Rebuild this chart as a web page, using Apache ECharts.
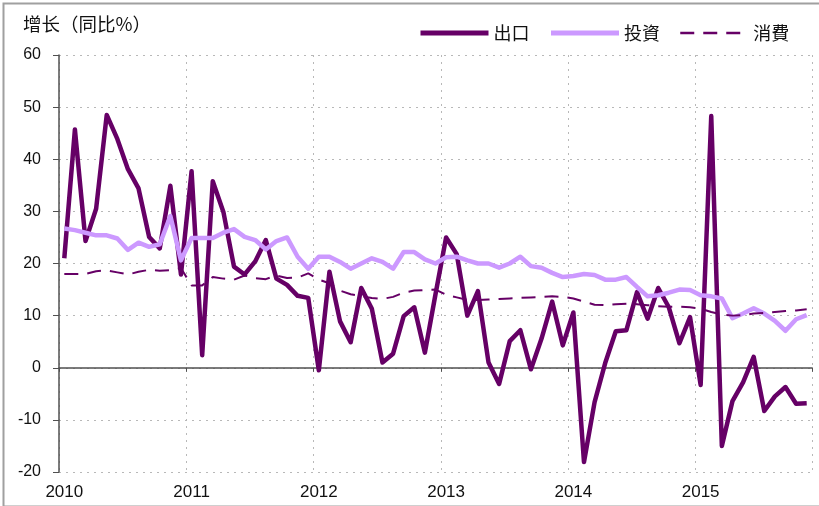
<!DOCTYPE html>
<html>
<head>
<meta charset="utf-8">
<script src="https://cdn.jsdelivr.net/npm/echarts@6/dist/echarts.min.js"></script>
<style>html,body{margin:0;padding:0;background:#fff;}#c{width:819px;height:506px;}</style>
</head>
<body>
<div id="c"></div>
<script>
// Years shown on the axis (monthly data Jan 2010 – Nov 2015)
var years = ['2010', '2011', '2012', '2013', '2014', '2015'];
var seriesNames = ['出口', '投資', '消費'];
var yTicks = { min: -20, max: 60, step: 10 };

// 出口 (exports, y/y %)
var exportsYoY = [
  21.0, 45.7, 24.3, 30.5, 48.5, 43.9, 38.1, 34.4, 25.1, 22.9, 34.9, 17.9,
  37.7, 2.4, 35.8, 29.9, 19.4, 17.9, 20.4, 24.5, 17.1, 15.9, 13.8, 13.4,
  -0.5, 18.4, 8.9, 4.9, 15.3, 11.3, 1.0, 2.7, 9.9, 11.6, 2.9, 14.1,
  25.0, 21.8, 10.0, 14.7, 1.0, -3.1, 5.1, 7.2, -0.3, 5.6, 12.7, 4.3,
  10.6, -18.1, -6.6, 0.9, 7.0, 7.2, 14.5, 9.4, 15.3, 11.6, 4.7, 9.7,
  -3.3, 48.3, -15.0, -6.4, -2.8, 2.1, -8.3, -5.5, -3.7, -6.9, -6.8
];
// 投資 (investment, y/y %)
var investmentYoY = [
  26.7, 26.4, 25.9, 25.4, 25.4, 24.8, 22.6, 24.0, 23.2, 23.7, 29.1, 20.6,
  24.9, 24.9, 24.9, 25.9, 26.6, 25.1, 24.5, 22.7, 24.3, 25.0, 21.3, 19.0,
  21.3, 21.3, 20.3, 19.0, 20.0, 21.0, 20.3, 19.0, 22.2, 22.2, 20.8, 20.0,
  21.2, 21.3, 20.6, 20.0, 20.0, 19.2, 20.0, 21.3, 19.5, 19.2, 18.2, 17.4,
  17.6, 18.0, 17.8, 16.9, 16.9, 17.4, 15.5, 13.7, 13.9, 14.4, 15.0, 14.9,
  13.9, 13.7, 13.3, 9.5, 10.4, 11.4, 10.4, 9.0, 7.1, 9.3, 10.1
];
// 消費 (consumption, y/y %)
var consumptionYoY = [
  18.0, 18.0, 18.0, 18.5, 18.7, 18.3, 17.9, 18.4, 18.8, 18.6, 18.7, 19.1,
  15.8, 15.8, 17.4, 17.1, 16.9, 17.7, 17.2, 17.0, 17.7, 17.2, 17.3, 18.1,
  16.9, 16.2, 14.8, 14.1, 13.7, 13.4, 13.2, 13.6, 14.4, 14.8, 14.9, 15.0,
  14.0, 13.5, 13.0, 13.0, 13.1, 13.2, 13.3, 13.4, 13.5, 13.6, 13.7, 13.6,
  13.3, 12.7, 12.1, 12.0, 12.2, 12.3, 12.2, 12.0, 11.8, 11.7, 11.7, 11.6,
  11.3, 10.7, 10.2, 10.0, 10.1, 10.4, 10.5, 10.7, 10.9, 11.0, 11.2
];

// month categories
var months = [];
for (var yi = 0; yi < years.length; yi++) {
  for (var m = 1; m <= 12; m++) {
    if (months.length < exportsYoY.length) months.push(years[yi] + '-' + (m < 10 ? '0' + m : m));
  }
}

var numFont = 'Liberation Sans, Arial, sans-serif';
var cjkFont = 'Noto Sans CJK SC, sans-serif';
var isYearStart = function (idx) { return idx % 12 === 0; };

var chart = echarts.init(document.getElementById('c'), null, { renderer: 'canvas' });
chart.setOption({
  backgroundColor: '#ffffff',
  animation: false,
  graphic: [{
    type: 'rect', left: 1, top: 1, z: -1,
    shape: { x: 0, y: 0, width: 830, height: 503 },
    style: { fill: 'none', stroke: '#a0a0a0', lineWidth: 2 },
    silent: true
  }],
  title: {
    text: '增长（同比%）', left: 18, top: 10,
    textStyle: { fontFamily: cjkFont, fontSize: 18.5, fontWeight: 'normal', color: '#111' }
  },
  legend: {
    left: 413, top: 19, itemWidth: 68, itemHeight: 14, itemGap: 19,
    itemStyle: { opacity: 0 },
    textStyle: { fontFamily: cjkFont, fontSize: 18, color: '#111' },
    data: [
      { name: seriesNames[0], lineStyle: { width: 5 } },
      { name: seriesNames[1], lineStyle: { width: 5 } },
      { name: seriesNames[2], lineStyle: { width: 2.5 } }
    ]
  },
  grid: { left: 59, right: 7, top: 55, bottom: 34, containLabel: false },
  xAxis: [{
    type: 'category', data: months, boundaryGap: true, position: 'bottom',
    axisLine: { show: false, onZero: false },
    axisTick: { show: false },
    axisLabel: {
      interval: function (idx) { return isYearStart(idx); },
      formatter: function (v) { return v.slice(0, 4); },
      fontFamily: numFont, fontSize: 17, color: '#111', margin: 12
    },
    splitLine: { show: true, interval: function (idx) { return isYearStart(idx); },
      lineStyle: { color: '#b8b8b8', type: [2, 5], width: 1 } }
  }, {
    type: 'category', data: months, boundaryGap: true, position: 'bottom',
    axisLine: { show: true, onZero: true, lineStyle: { color: '#505050', width: 1.5 } },
    axisTick: { show: true, interval: function (idx) { return isYearStart(idx); }, length: 4, lineStyle: { color: '#505050' } },
    axisLabel: { show: false },
    splitLine: { show: false }
  }],
  yAxis: {
    type: 'value', min: yTicks.min, max: yTicks.max, interval: yTicks.step,
    axisLine: { show: true, lineStyle: { color: '#505050', width: 1.5 } },
    axisTick: { show: true, length: 6, lineStyle: { color: '#505050' } },
    axisLabel: { fontFamily: numFont, fontSize: 16, color: '#111', margin: 18 },
    splitLine: { show: true, lineStyle: { color: '#b8b8b8', type: [2, 5], width: 1 } }
  },
  series: [{
    name: seriesNames[0], type: 'line', xAxisIndex: 0, data: exportsYoY,
    showSymbol: false, symbol: 'none',
    lineStyle: { color: '#660066', width: 4.5, join: 'round' },
    itemStyle: { color: '#660066' }
  }, {
    name: seriesNames[1], type: 'line', xAxisIndex: 0, data: investmentYoY,
    showSymbol: false, symbol: 'none',
    lineStyle: { color: '#CC99FF', width: 4.5, join: 'round' },
    itemStyle: { color: '#CC99FF' }
  }, {
    name: seriesNames[2], type: 'line', xAxisIndex: 0, data: consumptionYoY,
    showSymbol: false, symbol: 'none',
    lineStyle: { color: '#660066', width: 2, type: [14, 9] },
    itemStyle: { color: '#660066' }
  }]
});
</script>
</body>
</html>
